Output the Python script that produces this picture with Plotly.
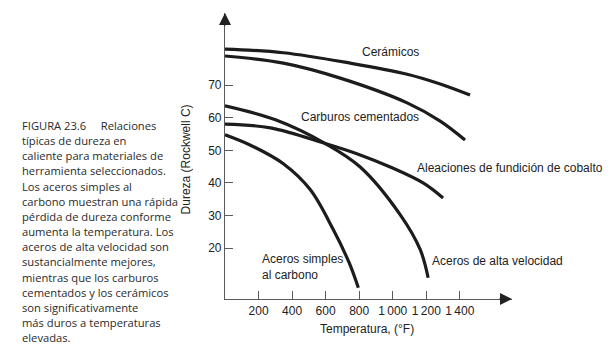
import plotly.graph_objects as go

# ---- data ----
temp_ticks = [200, 400, 600, 800, 1000, 1200, 1400]
temp_tick_labels = ["200", "400", "600", "800", "1\u2009000", "1\u2009200", "1\u2009400"]
hard_ticks = [20, 30, 40, 50, 60, 70]
hard_tick_labels = ["20", "30", "40", "50", "60", "70"]

ceram_t = [0, 348, 747, 1086, 1283, 1461]
ceram_h = [81.1, 80.0, 76.8, 73.4, 70.4, 67.0]

carb_t = [0, 348, 687, 1086, 1283, 1431]
carb_h = [79.0, 76.8, 72.2, 64.6, 59.0, 53.2]

cobalt_t = [0, 271, 598, 806, 985, 1181, 1300]
cobalt_h = [58.1, 56.9, 52.1, 48.6, 44.9, 40.0, 35.4]

hss_t = [0, 301, 598, 806, 1045, 1164, 1211]
hss_h = [63.7, 59.4, 52.1, 44.9, 30.2, 19.5, 10.9]

carbon_t = [0, 152, 348, 509, 646, 740, 795]
carbon_h = [54.8, 51.6, 45.9, 37.9, 25.6, 15.5, 7.8]

series = [
    ("Cerámicos", ceram_t, ceram_h),
    ("Carburos cementados", carb_t, carb_h),
    ("Aleaciones de fundición de cobalto", cobalt_t, cobalt_h),
    ("Aceros de alta velocidad", hss_t, hss_h),
    ("Aceros simples al carbono", carbon_t, carbon_h),
]

# label positions (data coords)
labels = [
    ("Cerámicos", 985, 80.3, "center"),
    ("Carburos cementados", 806, 60.2, "center"),
    ("Aleaciones de fundición de cobalto", 1134, 44.7, "left"),
    ("Aceros de alta velocidad", 1223, 16.1, "left"),
    ("Aceros simples<br>al carbono", 210, 14.3, "left"),
]

caption_lines = [
    "FIGURA 23.6&nbsp;&nbsp;&nbsp;&nbsp;&nbsp;Relaciones",
    "típicas de dureza en",
    "caliente para materiales de",
    "herramienta seleccionados.",
    "Los aceros simples al",
    "carbono muestran una rápida",
    "pérdida de dureza conforme",
    "aumenta la temperatura. Los",
    "aceros de alta velocidad son",
    "sustancialmente mejores,",
    "mientras que los carburos",
    "cementados y los cerámicos",
    "son significativamente",
    "más duros a temperaturas",
    "elevadas.",
]

X_RANGE = [0, 1711]
Y_RANGE = [4.36, 92.2]

W, H = 614, 351
ML, MR, MT, MB = 224.5, 102, 13, 51.7
PW = W - ML - MR
PH = H - MT - MB

AXIS_COLOR = "#5a5a5a"
TEXT_COLOR = "#222222"
FONT = "Liberation Sans, Arial, sans-serif"


def px_to_paper(px, py):
    return (px - ML) / PW, 1 - (py - MT) / PH


fig = go.Figure()
for name, t, h in series:
    fig.add_trace(go.Scatter(
        x=t, y=h, mode="lines", name=name,
        line=dict(color="#1c1c1c", width=3.2, shape="spline", smoothing=1.0),
        showlegend=False, hoverinfo="skip",
    ))

annotations = []
for txt, x, y, anchor in labels:
    annotations.append(dict(
        x=x, y=y, xref="x", yref="y", text=txt, showarrow=False,
        xanchor=anchor, yanchor="middle", align="left",
        font=dict(family=FONT, size=12, color=TEXT_COLOR),
    ))

# axis arrows
annotations.append(dict(
    x=X_RANGE[1], y=Y_RANGE[0], xref="x", yref="y", ax=-14, ay=0,
    axref="pixel", ayref="pixel", text="", showarrow=True,
    arrowhead=2, arrowsize=1.5, arrowwidth=1.6, arrowcolor="#222222",
))
annotations.append(dict(
    x=0, y=Y_RANGE[1], xref="x", yref="y", ax=0, ay=14,
    axref="pixel", ayref="pixel", text="", showarrow=True,
    arrowhead=2, arrowsize=1.5, arrowwidth=1.6, arrowcolor="#222222",
))

# axis titles
tx, ty = px_to_paper(367, 329)
annotations.append(dict(
    x=tx, y=ty, xref="paper", yref="paper",
    text="Temperatura, (°F)", showarrow=False, xanchor="center", yanchor="middle",
    font=dict(family=FONT, size=12, color=TEXT_COLOR),
))
tx, ty = px_to_paper(185, 160)
annotations.append(dict(
    x=tx, y=ty, xref="paper", yref="paper",
    text="Dureza (Rockwell C)", showarrow=False, textangle=-90,
    xanchor="center", yanchor="middle",
    font=dict(family=FONT, size=12, color=TEXT_COLOR),
))

# caption, one annotation per line for exact line pitch
CAP_TOP, CAP_PITCH = 125.5, 15.19
for i, line in enumerate(caption_lines):
    cx, cy = px_to_paper(19, CAP_TOP + i * CAP_PITCH)
    annotations.append(dict(
        x=cx, y=cy, xref="paper", yref="paper", text=line, showarrow=False,
        xanchor="left", yanchor="middle", align="left",
        font=dict(family="Open Sans, Lato, sans-serif", size=11.2, color="#2a2a2a"),
    ))

fig.update_layout(
    width=W, height=H,
    margin=dict(l=ML, r=MR, t=MT, b=MB, pad=0),
    paper_bgcolor="white", plot_bgcolor="white",
    annotations=annotations,
    xaxis=dict(
        range=X_RANGE, showgrid=False, zeroline=False,
        showline=True, linecolor=AXIS_COLOR, linewidth=1.2,
        tickmode="array", tickvals=temp_ticks, ticktext=temp_tick_labels,
        ticks="inside", ticklen=8, tickwidth=1.2, tickcolor=AXIS_COLOR,
        tickfont=dict(family=FONT, size=12, color=TEXT_COLOR),
        fixedrange=True,
    ),
    yaxis=dict(
        range=Y_RANGE, showgrid=False, zeroline=False,
        showline=True, linecolor=AXIS_COLOR, linewidth=1.2,
        tickmode="array", tickvals=hard_ticks, ticktext=hard_tick_labels,
        ticks="inside", ticklen=8, tickwidth=1.2, tickcolor=AXIS_COLOR,
        tickfont=dict(family=FONT, size=12, color=TEXT_COLOR),
        fixedrange=True,
    ),
)

fig.write_html("out.html", config={"displayModeBar": False})
